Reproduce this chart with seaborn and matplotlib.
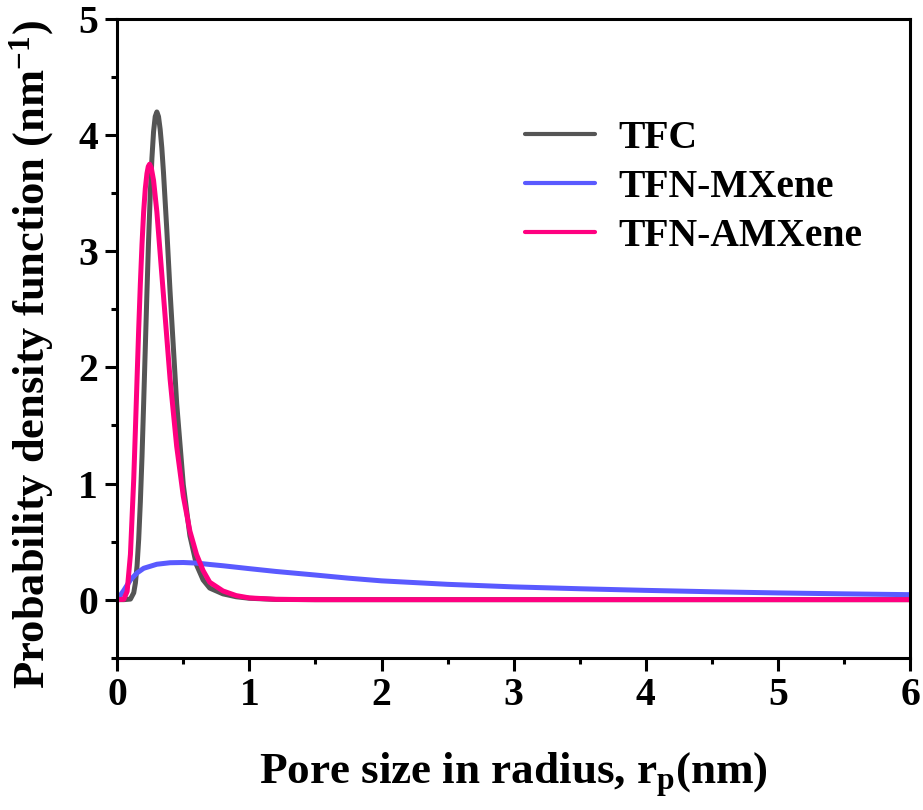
import matplotlib
matplotlib.use("Agg")
import matplotlib.pyplot as plt
import matplotlib.ticker as mticker
import seaborn as sns
import pandas as pd

# pore radius (nm) and PDF values
tfc_r = [0, 0.05, 0.1, 0.125, 0.1375, 0.15, 0.1625, 0.175, 0.1875, 0.2, 0.2125,
         0.225, 0.2375, 0.25, 0.2625, 0.275, 0.2875, 0.3, 0.3125, 0.325, 0.3375,
         0.35, 0.375, 0.4, 0.45, 0.5, 0.55, 0.6, 0.65, 0.7, 0.8, 0.9, 1.0, 1.2,
         1.5, 2, 3, 4, 5, 6]
tfc_pdf = [0, 0, 0.005, 0.059, 0.143, 0.29, 0.52, 0.84, 1.23, 1.69, 2.17,
           2.65, 3.1, 3.49, 3.8, 4.03, 4.16, 4.2, 4.16, 4.05, 3.89,
           3.68, 3.19, 2.65, 1.69, 0.99, 0.55, 0.3, 0.17, 0.1, 0.05, 0.025, 0.012,
           0.002, 0, 0, 0, 0, 0, 0]

mx_r = [0, 0.05, 0.1, 0.15, 0.2, 0.3, 0.4, 0.5, 0.6, 0.7, 0.8, 1.0, 1.2, 1.5,
        1.75, 2.0, 2.5, 3.0, 3.5, 4.0, 4.5, 5.0, 5.5, 6.0]
mx_pdf = [0, 0.08, 0.17, 0.23, 0.27, 0.305, 0.318, 0.32, 0.315, 0.303, 0.292,
          0.267, 0.243, 0.212, 0.185, 0.162, 0.132, 0.11, 0.094, 0.08, 0.068,
          0.058, 0.05, 0.043]

amx_r = [0, 0.05, 0.075, 0.1, 0.125, 0.1375, 0.15, 0.1625, 0.175, 0.1875, 0.2,
         0.2125, 0.225, 0.235, 0.245, 0.2575, 0.275, 0.3, 0.35, 0.4, 0.45, 0.5,
         0.55, 0.6, 0.65, 0.7, 0.8, 0.9, 1.0, 1.2, 1.5, 2, 3, 4, 5, 6]
amx_pdf = [0, 0.003, 0.071, 0.39, 1.04, 1.46, 1.9, 2.33, 2.72, 3.06, 3.34,
           3.54, 3.67, 3.73, 3.75, 3.72, 3.61, 3.34, 2.62, 1.9, 1.32, 0.89,
           0.59, 0.39, 0.25, 0.15, 0.075, 0.035, 0.015, 0.003, 0, 0, 0, 0, 0, 0]

labels = ["TFC", "TFN-MXene", "TFN-AMXene"]
colors = ["#555555", "#5a5aff", "#ff0080"]

sns.set_style("ticks")
plt.rcParams["font.family"] = ["Liberation Serif", "DejaVu Serif"]
plt.rcParams["font.weight"] = "bold"
plt.rcParams["axes.labelweight"] = "bold"
plt.rcParams["text.color"] = "black"
plt.rcParams["axes.labelcolor"] = "black"
plt.rcParams["xtick.color"] = "black"
plt.rcParams["ytick.color"] = "black"
plt.rcParams["mathtext.fontset"] = "custom"
plt.rcParams["mathtext.rm"] = "Liberation Serif:bold"
plt.rcParams["mathtext.bf"] = "Liberation Serif:bold"
plt.rcParams["mathtext.default"] = "bf"

fig, ax = plt.subplots(figsize=(9.23, 8.10), dpi=100)
fig.subplots_adjust(left=0.127, right=0.986, bottom=0.188, top=0.9765)

for r, p, lab, c in zip([tfc_r, mx_r, amx_r], [tfc_pdf, mx_pdf, amx_pdf], labels, colors):
    sns.lineplot(x=r, y=p, ax=ax, color=c, lw=3.6, label=lab, sort=False)

ax.set_xlim(0, 6)
ax.set_ylim(-0.5, 5)
ax.xaxis.set_major_locator(mticker.MultipleLocator(1))
ax.xaxis.set_minor_locator(mticker.MultipleLocator(0.5))
ax.yaxis.set_major_locator(mticker.MultipleLocator(1))
ax.yaxis.set_minor_locator(mticker.MultipleLocator(0.5))
ax.tick_params(which="major", direction="out", length=9, width=2.2, labelsize=28.5, pad=5)
ax.tick_params(which="minor", direction="out", length=4.5, width=2.2)
for s in ax.spines.values():
    s.set_linewidth(2.2)
    s.set_color("black")

ax.set_xlabel(r"Pore size in radius, r$_\mathrm{p}$(nm)", fontsize=32.5, labelpad=26)
ax.set_ylabel(r"Probability density function (nm$^{-1}$)", fontsize=32)
ax.yaxis.set_label_coords(-0.077, 0.475)

leg = ax.legend(loc="upper left", bbox_to_anchor=(0.47, 0.898), frameon=False,
                fontsize=28.5, handlelength=1.75, handletextpad=0.6, labelspacing=0.3)
for h in leg.get_lines():
    h.set_linewidth(3)

fig.savefig("out.png", dpi=100)
